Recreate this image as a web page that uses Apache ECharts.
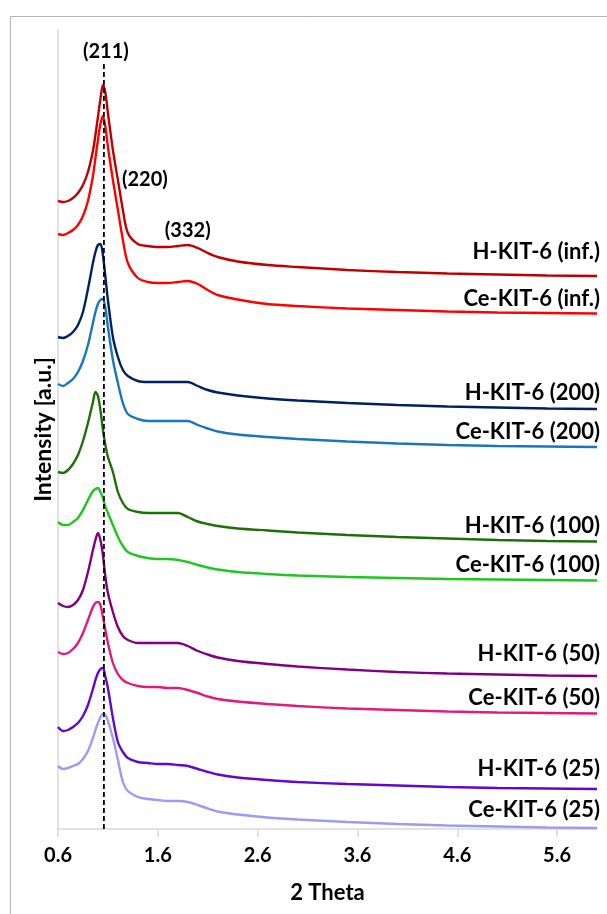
<!DOCTYPE html>
<html>
<head>
<meta charset="utf-8">
<script src="https://cdn.jsdelivr.net/npm/echarts@6/dist/echarts.min.js"></script>
<style>
  html, body { margin: 0; padding: 0; background: #ffffff; }
  #chart { width: 607px; height: 914px; }
</style>
</head>
<body>
<div id="chart"></div>
<script>
// Small-angle XRD patterns of KIT-6 samples (stacked, arbitrary intensity units)
const twoTheta = [0.6, 0.65, 0.7, 0.75, 0.8, 0.85, 0.9, 0.95, 0.975, 1.0, 1.025, 1.05, 1.075, 1.1,
  1.15, 1.2, 1.25, 1.3, 1.4, 1.5, 1.6, 1.7, 1.8, 1.9, 2.0, 2.1, 2.2, 2.4, 2.7, 3.0, 3.5,
  4.0, 4.5, 5.0, 5.5, 6.0];

const hKitInf  = [628, 627, 628, 631, 636, 644, 657, 678, 694, 712, 730, 744, 736, 716, 679, 649, 619, 596,
  585, 583, 582, 582, 583, 584, 581, 576, 572, 567.5, 564, 562, 559, 557, 555.5, 554.5, 553.5, 553];
const ceKitInf = [595, 594, 596, 599, 604, 613, 628, 653, 671, 689, 705, 713, 702, 682, 649, 619, 589, 566,
  551, 547, 546, 546, 547, 548, 545, 539, 534, 529.5, 525, 523, 520.5, 519, 517.5, 516.5, 516, 515.5];
const hKit200  = [492, 491, 493, 497, 504, 517, 540, 566, 577, 584, 585, 574, 552, 529, 492, 472, 459, 453,
  448, 447, 447, 447, 447, 447, 443, 439, 436.5, 433.5, 430.5, 428.5, 426, 424, 422.5, 421.5, 420.5, 420];
const ceKit200 = [445, 443, 446, 450, 457, 468, 484, 506, 517, 525, 529, 530, 521, 502, 469, 446, 426, 415,
  410, 408, 408, 408, 408, 408, 404, 400.5, 397.5, 394.5, 392, 390, 387.5, 385.5, 384, 383, 382.5, 382];
const hKit100  = [357, 356, 359, 365, 374, 388, 406, 427, 437, 433, 419, 399, 384, 372, 357, 337, 326, 320,
  317, 316, 316, 316, 316, 312, 307.5, 305, 303, 300.5, 298.5, 296.5, 294, 292, 290.5, 289, 288, 287.5];
const ceKit100 = [307, 304, 304, 307, 311, 319, 329, 338, 340, 341, 337, 331, 322, 316, 304, 292, 283, 277,
  273, 271, 270, 270, 269, 267, 264, 261.5, 259.5, 257, 255, 253.5, 252, 251, 250, 249.5, 249, 248.5];
const hKit50   = [226, 223, 222, 224, 229, 239, 257, 279, 289, 296, 289, 274, 252, 236, 217, 202, 193, 189,
  186, 186, 186, 186, 186, 183, 178, 174.5, 171.5, 168, 165, 162.5, 159.5, 157, 155.5, 154.5, 153.5, 153];
const ceKit50  = [177, 175, 176, 180, 186, 196, 209, 222, 226, 227, 224, 212, 199, 186, 166, 155, 149, 146,
  143, 142, 142, 141, 141, 139, 136, 132.5, 130, 127.5, 125, 123, 120.5, 119, 117.5, 116.5, 116, 115.5];
const hKit25   = [102, 98, 99, 102, 106, 113, 124, 140, 149, 156, 160, 161, 152, 141, 111, 87, 77, 71,
  67, 66, 65, 65, 64, 63, 60, 57, 54.5, 51.5, 49, 47, 45, 43.5, 42, 41, 40.5, 40];
const ceKit25  = [63, 60, 61, 63, 65, 70, 78, 91, 99, 106, 112, 115, 114, 108, 91, 69, 47, 38,
  32, 30, 29, 28, 28, 27, 24, 20.5, 17.5, 14.5, 11.5, 9.5, 7, 5, 3.5, 2.5, 1.5, 1];

const sampleNames = ['H-KIT-6 (inf.)', 'Ce-KIT-6 (inf.)', 'H-KIT-6 (200)', 'Ce-KIT-6 (200)',
  'H-KIT-6 (100)', 'Ce-KIT-6 (100)', 'H-KIT-6 (50)', 'Ce-KIT-6 (50)', 'H-KIT-6 (25)', 'Ce-KIT-6 (25)'];
const sampleValues = [hKitInf, ceKitInf, hKit200, ceKit200, hKit100, ceKit100, hKit50, ceKit50, hKit25, ceKit25];

// Reflection labels and the (211) reference position
const reflectionLabels = ['(211)', '(220)', '(332)'];
const reflectionTheta = [1.08, 1.47, 1.90];
const reflectionLevel = [777, 649, 598];
const refLineTheta = 1.06;
const refLineRange = [0, 767];

const xTicks = [0.6, 1.6, 2.6, 3.6, 4.6, 5.6];

// Styling
const palette = ['#C00000', '#FF0000', '#002060', '#1B75BB', '#1E6F0A', '#20C520',
  '#800080', '#E21A7E', '#6208CC', '#9B9BF2'];
const labelShiftY = [-24, -15, -16, -15, -16, -16, -22, -16, -20, -18];
const FONT = 'Lato, "Open Sans", sans-serif';

const chart = echarts.init(document.getElementById('chart'), null, { renderer: 'canvas' });

const lineSeries = sampleNames.map((name, i) => ({
  name: name,
  type: 'line',
  data: twoTheta.map((t, k) => [t, sampleValues[i][k]]),
  showSymbol: false,
  smooth: 0.3,
  lineStyle: { color: palette[i], width: 2.4 },
  itemStyle: { color: palette[i] },
  z: 3,
  endLabel: {
    show: true,
    formatter: name,
    align: 'right',
    verticalAlign: 'middle',
    distance: 0,
    offset: [3, labelShiftY[i]],
    color: '#000',
    fontFamily: FONT,
    fontWeight: 'bold',
    fontSize: 22
  }
}));

const option = {
  animation: false,
  backgroundColor: '#ffffff',
  grid: { left: 58, right: 10, top: 30, bottom: 85, containLabel: false },
  xAxis: {
    type: 'value',
    min: 0.6,
    max: 6.0,
    name: '2 Theta',
    nameLocation: 'middle',
    nameGap: 53,
    nameTextStyle: { color: '#000', fontFamily: FONT, fontWeight: 'bold', fontSize: 22 },
    axisLine: { show: true, lineStyle: { color: '#d9d9d9', width: 1.5 } },
    axisTick: { show: true, length: 8, customValues: xTicks, lineStyle: { color: '#d9d9d9', width: 1.5 } },
    axisLabel: {
      customValues: xTicks,
      formatter: v => v.toFixed(1),
      margin: 17,
      color: '#000', fontFamily: FONT, fontWeight: 'bold', fontSize: 20
    },
    splitLine: { show: false }
  },
  yAxis: {
    type: 'value',
    min: 0,
    max: 799,
    name: 'Intensity [a.u.]',
    nameLocation: 'middle',
    nameGap: 3,
    nameRotate: 90,
    nameTextStyle: { color: '#000', fontFamily: FONT, fontWeight: 'bold', fontSize: 23 },
    axisLine: { show: true, lineStyle: { color: '#d9d9d9', width: 1.5 } },
    axisTick: { show: false },
    axisLabel: { show: false },
    splitLine: { show: false }
  },
  graphic: [{
    type: 'rect',
    shape: { x: 10.5, y: 16.5, width: 640, height: 940 },
    style: { fill: 'none', stroke: '#b4b4b4', lineWidth: 1 },
    silent: true
  }],
  series: [
    ...lineSeries,
    {
      name: 'reflections',
      type: 'scatter',
      data: reflectionTheta.map((t, k) => [t, reflectionLevel[k]]),
      symbolSize: 0,
      silent: true,
      z: 5,
      itemStyle: { color: '#000', opacity: 1 },
      label: {
        show: true,
        position: 'inside',
        formatter: p => reflectionLabels[p.dataIndex],
        color: '#000', textBorderWidth: 0,
        fontFamily: FONT, fontWeight: 'bold', fontSize: 20
      }
    },
    {
      name: '(211) position',
      type: 'line',
      data: refLineRange.map(v => [refLineTheta, v]),
      showSymbol: false,
      silent: true,
      z: 6,
      lineStyle: { color: '#000', width: 1.8, type: [5, 3] }
    }
  ]
};

chart.setOption(option);
</script>
</body>
</html>
